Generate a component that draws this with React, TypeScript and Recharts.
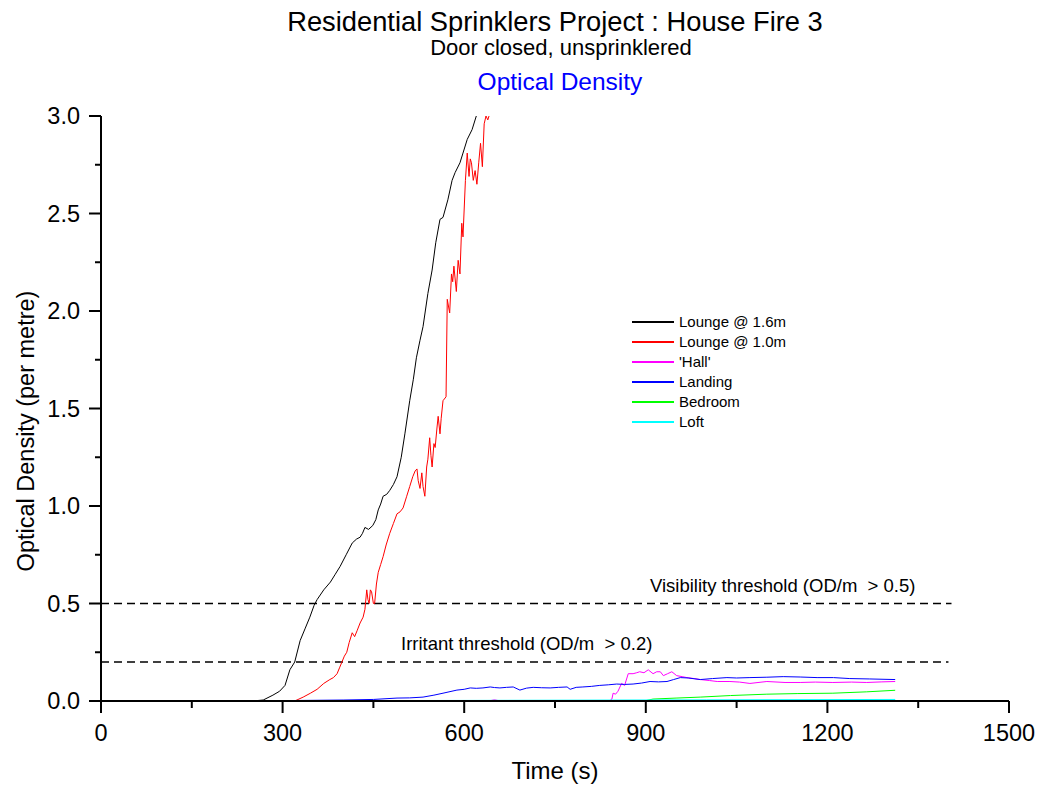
import React from "react";
import { LineChart, Line, XAxis, YAxis, ReferenceLine, Legend } from "recharts";

// ---- data (time in s, optical density per metre) ----
const lounge16T = [0, 250, 268, 284, 295, 304, 312, 320, 329, 337, 345, 352, 357, 368, 379, 387, 395, 405, 415, 422, 428, 432, 436, 442, 449, 454, 458, 462, 466, 472, 477, 483, 489, 496, 502, 510, 516, 521, 527, 532, 540, 547, 553, 560, 565, 573, 580, 585, 593, 598, 605, 613, 620];
const lounge16V = [0, 0, 0.005, 0.03, 0.05, 0.08, 0.16, 0.2, 0.31, 0.37, 0.43, 0.49, 0.52, 0.57, 0.61, 0.65, 0.69, 0.75, 0.81, 0.83, 0.84, 0.86, 0.89, 0.88, 0.9, 0.93, 0.98, 1.01, 1.05, 1.06, 1.08, 1.11, 1.15, 1.25, 1.37, 1.54, 1.65, 1.76, 1.85, 1.92, 2.09, 2.21, 2.35, 2.47, 2.48, 2.57, 2.67, 2.71, 2.76, 2.81, 2.88, 2.93, 3.0];

const lounge10T = [0, 320, 334, 346, 357, 368, 378, 384, 390, 394, 398, 402, 406, 410, 415, 419, 423, 428, 433, 436, 439, 441, 443, 445, 447, 450, 452, 455, 458, 462, 466, 471, 477, 483, 489, 494, 499, 505, 510, 515, 519, 522, 524, 527, 530, 532, 535, 538, 540, 543, 545, 547, 550, 552, 555, 557, 560, 562, 565, 570, 572, 576, 579, 581, 583, 587, 590, 593, 596, 598, 602, 605, 608, 610, 612, 615, 618, 621, 624, 627, 630, 633, 636, 639, 641];
const lounge10V = [0, 0, 0.02, 0.04, 0.06, 0.09, 0.11, 0.12, 0.14, 0.17, 0.2, 0.23, 0.25, 0.3, 0.35, 0.33, 0.36, 0.4, 0.43, 0.47, 0.57, 0.52, 0.5, 0.57, 0.56, 0.5, 0.5, 0.6, 0.66, 0.7, 0.74, 0.8, 0.86, 0.91, 0.96, 0.97, 0.99, 1.05, 1.1, 1.15, 1.18, 1.19, 1.13, 1.09, 1.17, 1.1, 1.05, 1.2, 1.24, 1.35, 1.26, 1.2, 1.32, 1.3, 1.4, 1.46, 1.37, 1.45, 1.54, 1.56, 2.06, 1.99, 2.19, 2.15, 2.23, 2.1, 2.26, 2.19, 2.45, 2.38, 2.67, 2.81, 2.69, 2.78, 2.76, 2.67, 2.72, 2.65, 2.76, 2.86, 2.74, 2.96, 3.0, 2.98, 3.0];

const hallT = [0, 640, 650, 660, 840, 844, 846, 850, 854, 860, 865, 871, 879, 885, 890, 897, 904, 912, 918, 924, 929, 936, 943, 951, 960, 968, 980, 990, 1005, 1018, 1039, 1055, 1072, 1100, 1130, 1155, 1180, 1209, 1240, 1265, 1290, 1312];
const hallV = [0, 0, 0.006, 0, 0, 0.01, 0.04, 0.035, 0.05, 0.09, 0.08, 0.14, 0.14, 0.145, 0.15, 0.145, 0.16, 0.14, 0.15, 0.15, 0.13, 0.14, 0.15, 0.13, 0.125, 0.12, 0.115, 0.11, 0.105, 0.1, 0.1, 0.097, 0.09, 0.1, 0.095, 0.095, 0.097, 0.095, 0.097, 0.095, 0.098, 0.1];

const landingT = [0, 300, 400, 450, 489, 510, 532, 550, 565, 588, 600, 610, 620, 631, 643, 650, 659, 670, 681, 692, 703, 714, 728, 742, 756, 770, 775, 785, 796, 810, 824, 838, 852, 865, 879, 893, 907, 921, 935, 946, 957, 970, 990, 1010, 1034, 1050, 1072, 1100, 1127, 1155, 1183, 1210, 1237, 1270, 1312];
const landingV = [0, 0.002, 0.005, 0.008, 0.015, 0.016, 0.02, 0.03, 0.04, 0.056, 0.06, 0.067, 0.065, 0.067, 0.072, 0.069, 0.067, 0.07, 0.072, 0.056, 0.066, 0.07, 0.068, 0.067, 0.07, 0.072, 0.06, 0.07, 0.072, 0.075, 0.08, 0.083, 0.087, 0.085, 0.087, 0.092, 0.1, 0.098, 0.1, 0.11, 0.12, 0.118, 0.11, 0.115, 0.12, 0.118, 0.12, 0.122, 0.125, 0.123, 0.12, 0.12, 0.115, 0.113, 0.11];

const bedroomT = [0, 600, 900, 912, 950, 990, 1040, 1100, 1150, 1209, 1265, 1312];
const bedroomV = [0, 0, 0.002, 0.01, 0.015, 0.02, 0.028, 0.035, 0.038, 0.04, 0.047, 0.055];

const loftT = [0, 600, 1000, 1312];
const loftV = [0, 0.003, 0.006, 0.008];

const seriesNames = ["Lounge @ 1.6m", "Lounge @ 1.0m", "'Hall'", "Landing", "Bedroom", "Loft"];
const seriesColors = ["#000000", "#FF0000", "#FF00FF", "#0000FF", "#00FF00", "#00FFFF"];

const xTicks = [0, 150, 300, 450, 600, 750, 900, 1050, 1200, 1350, 1500];
const yTicks = [0, 0.25, 0.5, 0.75, 1, 1.25, 1.5, 1.75, 2, 2.25, 2.5, 2.75, 3];

const thresholds = [
  { y: 0.5, xEnd: 1405, label: "Visibility threshold (OD/m  > 0.5)" },
  { y: 0.2, xEnd: 1400, label: "Irritant threshold (OD/m  > 0.2)" },
];

const zip = (t: number[], v: number[]) => t.map((tt, i) => ({ t: tt, v: v[i] }));
const datasets = [
  zip(lounge16T, lounge16V),
  zip(lounge10T, lounge10V),
  zip(hallT, hallV),
  zip(landingT, landingV),
  zip(bedroomT, bedroomV),
  zip(loftT, loftV),
];

const FONT = "'Liberation Sans', Arial, sans-serif";

const XTick = (props: any) => {
  const { x, y, payload } = props;
  const major = payload.value % 300 === 0;
  return (
    <g>
      <line x1={x} x2={x} y1={y - 12} y2={major ? y : y - 5} stroke="#000" strokeWidth={2} />
      {major && (
        <text x={x} y={y + 28} textAnchor="middle" fontSize={23.5} fill="#000" fontFamily={FONT}>
          {payload.value}
        </text>
      )}
    </g>
  );
};

const YTick = (props: any) => {
  const { x, y, payload } = props;
  const major = Math.abs((payload.value * 2) - Math.round(payload.value * 2)) < 1e-6;
  return (
    <g>
      <line x1={major ? x : x + 6} x2={x + 12} y1={y} y2={y} stroke="#000" strokeWidth={2} />
      {major && (
        <text x={x - 9} y={y + 8} textAnchor="end" fontSize={23.5} fill="#000" fontFamily={FONT}>
          {payload.value.toFixed(1)}
        </text>
      )}
    </g>
  );
};

const renderLegend = () => (
  <div style={{ fontFamily: FONT, fontSize: 15, color: "#000" }}>
    {seriesNames.map((name, i) => (
      <div key={name} style={{ height: 20, display: "flex", alignItems: "center" }}>
        <div style={{ width: 42, height: 2, background: seriesColors[i], marginRight: 5, marginTop: 1 }} />
        <span style={{ whiteSpace: "nowrap" }}>{name}</span>
      </div>
    ))}
  </div>
);

const makeThresholdLabel = (text: string, dx: number) => (props: any) => {
  const vb = props.viewBox || { x: 101, y: 0 };
  return (
    <text x={vb.x + dx} y={vb.y - 12} fontSize={18.5} fill="#000" fontFamily={FONT} style={{ whiteSpace: "pre" }}>
      {text}
    </text>
  );
};

export default function App() {
  return (
    <div style={{ position: "absolute", left: 0, top: 0, width: 1045, height: 785, background: "#fff", fontFamily: FONT }}>
      <LineChart width={1045} height={785} margin={{ top: 116, right: 36, left: 0, bottom: 24 }}>
        <XAxis
          type="number"
          dataKey="t"
          domain={[0, 1500]}
          ticks={xTicks}
          interval={0}
          allowDataOverflow
          height={60}
          axisLine={{ stroke: "#000", strokeWidth: 2 }}
          tickLine={false}
          tickSize={12}
          tickMargin={0}
          tick={<XTick />}
        />
        <YAxis
          type="number"
          dataKey="v"
          domain={[0, 3]}
          ticks={yTicks}
          interval={0}
          allowDataOverflow
          width={101}
          axisLine={{ stroke: "#000", strokeWidth: 2 }}
          tickLine={false}
          tickSize={12}
          tickMargin={0}
          tick={<YTick />}
        />
        {thresholds.map((th, i) => (
          <ReferenceLine
            key={i}
            segment={[{ x: 0, y: th.y }, { x: th.xEnd, y: th.y }]}
            stroke="#000"
            strokeWidth={1.6}
            strokeDasharray="8 5"
            ifOverflow="extendDomain"
            label={makeThresholdLabel(th.label, i === 0 ? 549 : 300)}
          />
        ))}
        {datasets.map((d, i) => (
          <Line
            key={seriesNames[i]}
            data={d}
            dataKey="v"
            name={seriesNames[i]}
            type="linear"
            stroke={seriesColors[i]}
            strokeWidth={1}
            dot={false}
            activeDot={false}
            legendType="line"
            isAnimationActive={false}
          />
        ))}
        <Legend
          layout="vertical"
          align="center"
          verticalAlign="middle"
          content={renderLegend}
          wrapperStyle={{ left: 632, top: 311, width: 170 }}
        />
      </LineChart>
      <svg
        width={1045}
        height={785}
        style={{ position: "absolute", left: 0, top: 0, pointerEvents: "none" }}
        fontFamily={FONT}
      >
        <text x={555} y={31} textAnchor="middle" fontSize={27.3} fill="#000">
          Residential Sprinklers Project : House Fire 3
        </text>
        <text x={561} y={55} textAnchor="middle" fontSize={22} fill="#000">
          Door closed, unsprinklered
        </text>
        <text x={560} y={90} textAnchor="middle" fontSize={24.5} fill="#0000FF">
          Optical Density
        </text>
        <text x={34} y={431} textAnchor="middle" fontSize={23.5} fill="#000" transform="rotate(-90 34 431)">
          Optical Density (per metre)
        </text>
        <text x={555} y={779} textAnchor="middle" fontSize={24} fill="#000">
          Time (s)
        </text>
      </svg>
    </div>
  );
}
